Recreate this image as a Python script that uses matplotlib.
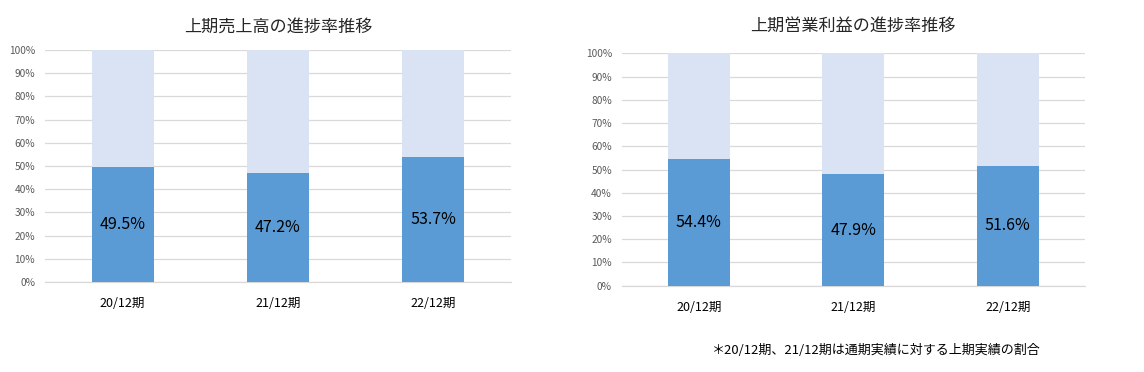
import matplotlib
matplotlib.use("Agg")
import matplotlib.pyplot as plt
from matplotlib.ticker import FuncFormatter

plt.rcParams['font.family'] = ['Noto Sans CJK JP', 'DejaVu Sans']

# データ（上期実績 / 通期 の割合, %）
categories = ["20/12期", "21/12期", "22/12期"]
sales_ratio = [49.5, 47.2, 53.7]
profit_ratio = [54.4, 47.9, 51.6]
full_scale = [100, 100, 100]
y_ticks = [0, 10, 20, 30, 40, 50, 60, 70, 80, 90, 100]

titles = ["上期売上高の進捗率推移", "上期営業利益の進捗率推移"]
note = "＊20/12期、21/12期は通期実績に対する上期実績の割合"

dark_blue = "#5B9BD5"
light_blue = "#DAE3F3"
grid_col = "#D9D9D9"

fig = plt.figure(figsize=(11.44, 3.72), dpi=100)

# 軸の位置（左, 右）
ax1 = fig.add_axes([0.0393, 0.2419, 0.4074, 0.6237])
ax2 = fig.add_axes([0.5434, 0.2320, 0.4050, 0.6247])


def draw_chart(ax, values, title, title_pad):
    x = range(len(categories))
    ax.bar(x, full_scale, width=0.4, color=light_blue, zorder=2)
    bars = ax.bar(x, values, width=0.4, color=dark_blue, zorder=3)
    ax.bar_label(bars, labels=[f"{v:.1f}%" for v in values], label_type="center",
                 fontsize=11.5, color="#000000")
    ax.set_xlim(-0.5, 2.5)
    ax.set_ylim(0, 100)
    ax.set_yticks(y_ticks)
    ax.yaxis.set_major_formatter(FuncFormatter(lambda v, p: f"{v:.0f}%"))
    ax.set_xticks(list(x))
    ax.set_xticklabels(categories)
    ax.tick_params(axis="y", length=0, pad=7, labelsize=7.3, labelcolor="#595959")
    ax.tick_params(axis="x", length=0, pad=11, labelsize=9, labelcolor="#000000")
    ax.grid(axis="y", color=grid_col, linewidth=0.9, zorder=0)
    ax.set_axisbelow(True)
    for s in ["top", "right", "left"]:
        ax.spines[s].set_visible(False)
    ax.spines["bottom"].set_color(grid_col)
    ax.spines["bottom"].set_linewidth(0.9)
    ax.set_title(title, fontsize=12.3, color="#262626", pad=title_pad)


draw_chart(ax1, sales_ratio, titles[0], 13)
draw_chart(ax2, profit_ratio, titles[1], 16)

fig.text(0.7664, 0.0573, note, ha="center", va="center", fontsize=9.4, color="#000000")

fig.savefig("out.png", dpi=100)
